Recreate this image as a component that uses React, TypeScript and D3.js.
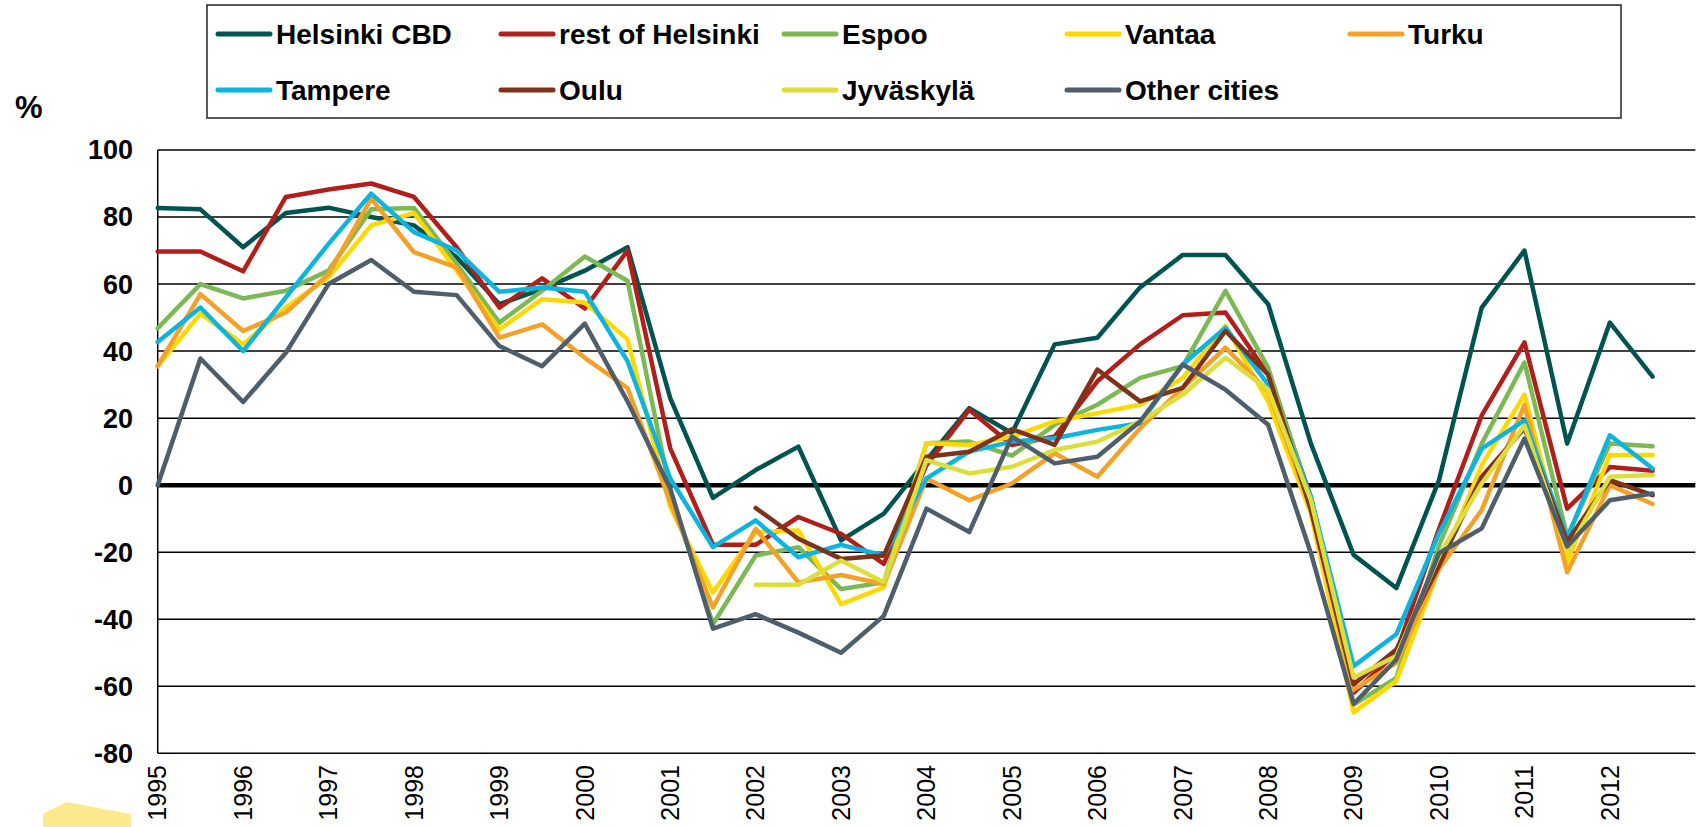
import React from 'react';
import * as d3 from 'd3';

// half-year observations, 1995 H1 ... 2012 H2
const years = d3.range(1995, 2013);
const yTicks = [-80, -60, -40, -20, 0, 20, 40, 60, 80, 100];

const names = ['Helsinki CBD', 'rest of Helsinki', 'Espoo', 'Vantaa', 'Turku', 'Tampere', 'Oulu', 'Jyväskylä', 'Other cities'];
const colors = ['#00544F', '#B21F1A', '#7CB955', '#FFD800', '#F5A128', '#0DB4E0', '#7E3219', '#DCDE3B', '#4E5E6A'];

const helsinkiCBD = [82.7, 82.3, 71, 81.2, 82.8, 80, 77.5, 68, 54, 58.5, 64, 71, 26, -3.8, 4.5, 11.5, -16.5, -8.5, 7.5, 23, 15.5, 42, 44, 59, 68.7, 68.7, 54, 12.4, -20.8, -30.7, 1.5, 53, 70, 12.4, 48.5, 32.4];
const restOfHelsinki = [69.7, 69.7, 63.8, 86, 88.2, 90, 86, 71, 53, 61.7, 52.7, 70, 11, -17.8, -17.8, -9.5, -14.5, -23.5, 6, 22.5, 12, 14.5, 31, 42, 50.7, 51.5, 33, -3.5, -62, -50, -13, 20.8, 42.6, -7, 5.4, 4.3];
const espoo = [46.8, 60, 55.7, 58, 64, 82.3, 82.7, 66, 48.5, 58, 68.2, 61, -2, -41.5, -21, -18.5, -31, -29, 12.5, 13, 8.8, 18, 24, 32, 35.5, 58, 35, -4.5, -65.5, -57.5, -18, 12.4, 36.6, -15.3, 12.4, 11.6];
const vantaa = [35.5, 51.2, 42, 53, 62, 77.5, 81.2, 64, 46.5, 55.5, 54.5, 43.5, -6.5, -32, -14, -13.5, -35.5, -30.5, 12.5, 12, 14.5, 19, 21.5, 24, 32, 47.5, 25, -8.4, -67.8, -58.4, -25, 6, 27, -23, 9, 9];
const turku = [35.5, 57, 46, 51.5, 63, 85.5, 69.5, 65, 44, 48, 38, 29, -5, -36.5, -13, -29, -26.8, -29.5, 2, -4.5, 0.5, 9.5, 2.5, 17, 29, 41, 28, -6.4, -61, -53, -25, -7.4, 24, -26, 0, -5.6];
const tampere = [42.7, 53, 40, 56, 72, 87, 75.5, 70, 57.7, 59, 57.7, 37, 2, -18.5, -10.5, -21.5, -17.8, -21, 2, 10, 13, 14, 16.5, 18.5, 36, 47, 30, -3.5, -54, -44.5, -14.4, 10.9, 19.3, -15.8, 14.9, 5];
const oulu = [null, null, null, null, null, null, null, null, null, null, null, null, null, null, -6.8, -16, -22, -21, 8.5, 10, 16.7, 12, 34.5, 25, 29, 46, 33, -7.4, -59.4, -49, -24, 2.5, 17, -16.8, 1.5, -3];
const jyvaskyla = [null, null, null, null, null, null, null, null, null, null, null, null, null, null, -29.7, -29.7, -22.5, -29, 7.5, 3.5, 5.5, 10.5, 13, 19, 27, 38, 28.5, -4.5, -57.4, -51, -21, 0.5, 17.8, -19.8, 2.5, 3];
const otherCities = [0, 37.8, 24.8, 39.5, 60, 67.2, 57.7, 56.7, 41.5, 35.5, 48.2, 25, -1, -42.8, -38.5, -44, -50, -39, -7, -14, 14.5, 6.5, 8.5, 19, 36, 28.5, 18, -20.3, -65.3, -52, -20.3, -12.9, 13.9, -18.3, -4.5, -2.5];

const seriesValues = [helsinkiCBD, restOfHelsinki, espoo, vantaa, turku, tampere, oulu, jyvaskyla, otherCities];

const W = 1706;
const H = 827;
const font = '"Liberation Sans", Arial, sans-serif';

export default function App() {
  const x = d3.scaleLinear().domain([0, 36]).range([157.7, 1695.3]);
  const y = d3.scaleLinear().domain([-80, 100]).range([753.3, 150]);

  const line = d3
    .line<number | null>()
    .defined((d) => d != null)
    .x((_, i) => x(i))
    .y((d) => y(d as number));

  return (
    <svg
      width={W}
      height={H}
      style={{ position: 'absolute', left: 0, top: 0, background: '#fff' }}
      fontFamily={font}
    >
      {/* decorative corner shape */}
      <polygon points="43,814 67,802 131,814 131,827 43,827" fill="#FCE98E" />

      {/* grid */}
      {yTicks.map((t) => (
        <line
          key={t}
          x1={x(0)}
          x2={x(36)}
          y1={y(t)}
          y2={y(t)}
          stroke="#000"
          strokeWidth={t === 0 ? 4.5 : 1.5}
        />
      ))}
      <line x1={x(0)} x2={x(0)} y1={y(100)} y2={y(-80)} stroke="#000" strokeWidth={1.5} />

      {/* y labels */}
      {yTicks.map((t) => (
        <text
          key={t}
          x={133}
          y={y(t)}
          dy="0.35em"
          textAnchor="end"
          fontSize={27}
          fontWeight="bold"
        >
          {t}
        </text>
      ))}
      <text x={15} y={118} fontSize={31} fontWeight="bold">%</text>

      {/* x labels */}
      {years.map((yr) => {
        const px = x((yr - 1995) * 2);
        return (
          <text
            key={yr}
            transform={`translate(${px},765) rotate(-90)`}
            dy="0.35em"
            textAnchor="end"
            fontSize={25}
          >
            {yr}
          </text>
        );
      })}

      {/* series */}
      {seriesValues.map((vals, k) => (
        <path
          key={names[k]}
          d={line(vals) || ''}
          fill="none"
          stroke={colors[k]}
          strokeWidth={4.5}
          strokeLinejoin="round"
          strokeLinecap="round"
        />
      ))}

      {/* legend */}
      <rect x={207} y={5} width={1414} height={113} fill="#fff" stroke="#222" strokeWidth={1.5} />
      {names.map((n, k) => {
        const col = k < 5 ? k : k - 5;
        const row = k < 5 ? 0 : 1;
        const lx = 218 + 283 * col;
        const ly = row === 0 ? 34 : 90;
        return (
          <g key={n}>
            <line x1={lx} x2={lx + 52} y1={ly} y2={ly} stroke={colors[k]} strokeWidth={5} strokeLinecap="round" />
            <text x={lx + 58} y={ly} dy="0.35em" fontSize={28} fontWeight="bold">
              {n}
            </text>
          </g>
        );
      })}
    </svg>
  );
}
